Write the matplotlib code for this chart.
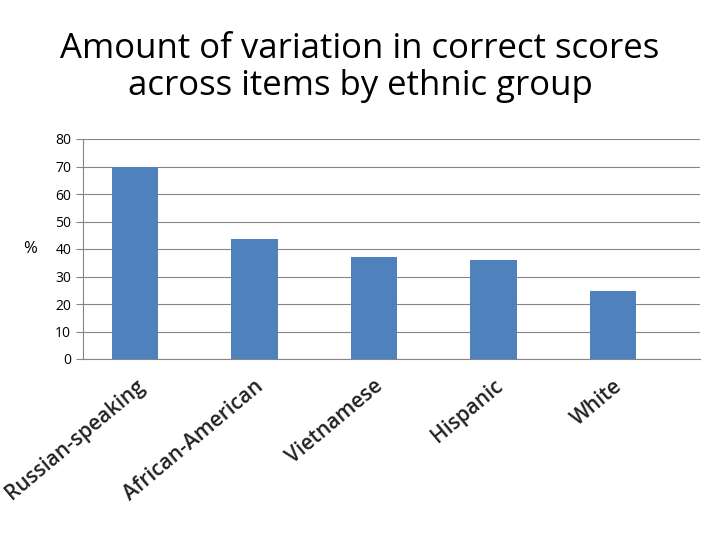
import matplotlib
matplotlib.use("Agg")
import matplotlib.pyplot as plt

categories = ["Russian-speaking", "African-American", "Vietnamese", "Hispanic", "White"]
values = [69.8, 43.6, 37.1, 36.0, 24.7]
yticks = [0, 10, 20, 30, 40, 50, 60, 70, 80]

plt.rcParams['font.family'] = ['Open Sans', 'DejaVu Sans']
fig = plt.figure(figsize=(7.2, 5.4), dpi=100)
ax = fig.add_axes([83/720, 1-359/540, (700-83)/720, 220/540])
x = list(range(len(categories)))
ax.bar(x, values, width=0.39, color="#4f81bd", zorder=3)
ax.set_xlim(-0.435, 4.73)
ax.set_ylim(0, 80)
ax.set_yticks(yticks)
ax.tick_params(axis='y', labelsize=10, length=5, color="#868686")
ax.yaxis.grid(True, color="#868686", linewidth=0.8, zorder=0)
for s in ["top", "right"]:
    ax.spines[s].set_visible(False)
ax.spines["left"].set_color("#868686")
ax.spines["bottom"].set_color("#868686")
ax.set_xticks(x)
ax.set_xticklabels(categories, rotation=40, ha="right", va="top",
                   rotation_mode="anchor", fontsize=15, fontweight="semibold", color="#222222")
ax.tick_params(axis='x', length=0, pad=12)
ax.set_ylabel("%", rotation=0, fontsize=12, labelpad=18, va="center")
fig.text(0.5, 0.875, "Amount of variation in correct scores\nacross items by ethnic group",
         ha="center", va="center", fontsize=25, linespacing=1.15)
fig.savefig("out.png", dpi=100)
